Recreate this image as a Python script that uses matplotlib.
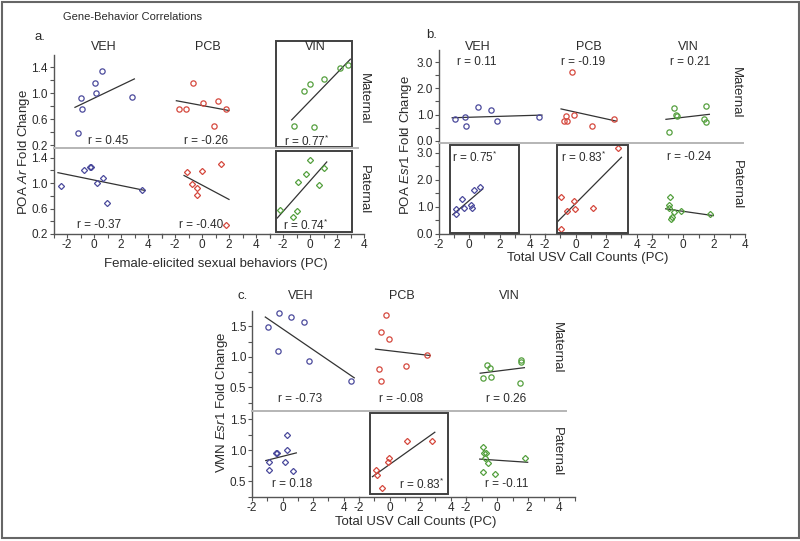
"""Gene-behavior correlation panels (a, b, c) redrawn with matplotlib."""

import matplotlib
matplotlib.use("Agg")
import matplotlib.pyplot as plt
import numpy as np
from matplotlib.lines import Line2D
from matplotlib.patches import Rectangle

plt.rcParams["font.family"] = ["Liberation Sans", "DejaVu Sans"]
plt.rcParams["mathtext.fontset"] = "custom"
plt.rcParams["mathtext.rm"] = "Liberation Sans"
plt.rcParams["mathtext.it"] = "Liberation Sans:italic"
plt.rcParams["axes.unicode_minus"] = False

W, H = 800, 541

GROUPS = ["VEH", "PCB", "VIN"]
ROWS = ["Maternal", "Paternal"]
COLORS = ["#4b4a9c", "#d5493e", "#55a03f"]

# --- panel a: POA Ar vs female-elicited sexual behaviors (PC)
a_mat_x = [[-1.21, -0.96, -0.91, 0.07, 0.15, 0.59, 2.79],
           [-1.70, -1.15, -0.65, 0.05, 1.16, 1.80, 0.91],
           [-1.16, -0.44, 0.02, 0.27, 1.06, 2.22, 2.79]]
a_mat_y = [[0.38, 0.93, 0.75, 1.15, 1.00, 1.34, 0.94],
           [0.76, 0.75, 1.16, 0.85, 0.88, 0.75, 0.49],
           [0.49, 1.03, 1.14, 0.47, 1.22, 1.39, 1.43]]
a_pat_x = [[-2.47, -0.76, -0.30, -0.20, 0.22, 0.64, 0.99, 3.53],
           [-1.13, -0.72, -0.35, -0.39, -0.02, 1.43, 1.80],
           [-2.22, -1.24, -0.94, -0.87, -0.30, 0.00, 0.64, 1.04]]
a_pat_y = [[0.95, 1.21, 1.26, 1.25, 1.00, 1.08, 0.68, 0.89],
           [1.18, 0.98, 0.92, 0.81, 1.19, 1.30, 0.34],
           [0.57, 0.47, 0.56, 1.02, 1.14, 1.37, 0.97, 1.24]]
a_r_mat = ["r = 0.45", "r = -0.26", "r = 0.77$^{*}$"]
a_r_pat = ["r = -0.37", "r = -0.40", "r = 0.74$^{*}$"]

# --- panel b: POA Esr1 vs total USV call counts (PC)
b_mat_x = [[-0.93, -0.27, -0.22, 0.58, 1.42, 1.80, 4.60],
           [-0.75, -0.60, -0.53, -0.25, -0.09, 1.09, 2.49],
           [-0.60, -0.45, -0.39, -0.90, 1.50, 1.37, 1.50]]
b_mat_y = [[0.84, 0.90, 0.56, 1.30, 1.17, 0.75, 0.90],
           [0.77, 0.95, 0.77, 2.61, 1.00, 0.56, 0.83],
           [1.24, 0.98, 0.95, 0.35, 1.33, 0.83, 0.73]]
b_pat_x = [[-0.89, -0.89, -0.47, -0.38, 0.11, 0.15, 0.33, 0.69],
           [-0.93, -0.98, -0.53, -0.09, -0.05, 1.13, 2.80],
           [-0.86, -0.92, -0.92, -0.60, -0.75, -0.69, -0.11, 1.76]]
b_pat_y = [[0.91, 0.74, 1.29, 0.95, 1.06, 0.97, 1.63, 1.73],
           [1.36, 0.17, 0.85, 1.23, 0.93, 0.97, 3.17],
           [1.36, 1.07, 0.97, 0.80, 0.56, 0.62, 0.86, 0.74]]
b_r_mat = ["r = 0.11", "r = -0.19", "r = 0.21"]
b_r_pat = ["r = 0.75$^{*}$", "r = 0.83$^{*}$", "r = -0.24"]

# --- panel c: VMN Esr1 vs total USV call counts (PC)
c_mat_x = [[-0.93, -0.24, -0.28, 0.52, 1.39, 1.72, 4.49],
           [-0.22, -0.59, -0.05, -0.72, -0.59, 1.09, 2.46],
           [-0.63, -0.46, -0.89, -0.39, 1.50, 1.55, 1.44]]
c_mat_y = [[1.49, 1.72, 1.10, 1.66, 1.57, 0.93, 0.60],
           [1.69, 1.40, 1.29, 0.80, 0.60, 0.85, 1.03],
           [0.87, 0.82, 0.65, 0.67, 0.95, 0.91, 0.57]]
c_pat_x = [[-0.90, -0.90, -0.46, -0.37, 0.26, 0.26, 0.13, 0.70],
           [-0.92, -0.83, -0.05, -0.08, -0.48, 1.13, 2.76],
           [-0.92, -0.83, -0.70, -0.78, -0.59, -0.92, -0.13, 1.76]]
c_pat_y = [[0.81, 0.69, 0.96, 0.96, 1.25, 1.00, 0.81, 0.66],
           [0.68, 0.61, 0.88, 0.81, 0.39, 1.15, 1.15],
           [1.05, 0.96, 0.95, 0.88, 0.79, 0.65, 0.62, 0.87]]
c_r_mat = ["r = -0.73", "r = -0.08", "r = 0.26"]
c_r_pat = ["r = 0.18", "r = 0.83$^{*}$", "r = -0.11"]

AXIS_C = "#555555"
TEXT_C = "#2b2b2b"


def px_rect(x0, y0, x1, y1):
    """Pixel box (top-left origin) -> figure fraction [l, b, w, h]."""
    return [x0 / W, 1 - y1 / H, (x1 - x0) / W, (y1 - y0) / H]


def px_text(fig, x, y, s, **kw):
    kw.setdefault("ha", "center")
    kw.setdefault("va", "center")
    kw.setdefault("color", TEXT_C)
    fig.text(x / W, 1 - y / H, s, **kw)


def draw_panel(fig, cols, rows, xlims, ylims, yticks, yminor, yfmt, xs, ys):
    markers = ["o", "D"]
    sizes = [3.8, 3.1]
    for r in range(2):
        for c in range(3):
            ax = fig.add_axes(px_rect(cols[c], rows[r], cols[c + 1], rows[r + 1]))
            ax.patch.set_alpha(0)
            for sp in ax.spines.values():
                sp.set_visible(False)
                sp.set_color(AXIS_C)
                sp.set_linewidth(1.0)
            ax.set_xlim(*xlims[c])
            ax.set_ylim(*ylims[r])

            x = np.asarray(xs[r][c])
            y = np.asarray(ys[r][c])
            ax.plot(x, y, ls="none", marker=markers[r], ms=sizes[r], mfc="none",
                    mec=COLORS[c], mew=0.9, clip_on=False, zorder=3)
            slope, icpt = np.polyfit(x, y, 1)
            xx = np.array([x.min() - 0.2, x.max() + 0.2])
            ax.plot(xx, slope * xx + icpt, color="#333333", lw=0.9, zorder=2)

            ax.tick_params(which="both", direction="out", length=3, width=0.8,
                           color=AXIS_C, labelsize=8.5, labelcolor=TEXT_C, pad=1.2)
            ax.tick_params(axis="x", which="both", pad=0.8)
            if c == 0:
                ax.spines["left"].set_visible(True)
                ax.set_yticks(yticks)
                ax.set_yticklabels([yfmt % v for v in yticks])
                ax.set_yticks(yminor[r], minor=True)
            else:
                ax.set_yticks([])
            if r == 1:
                ax.spines["bottom"].set_visible(True)
                lo, hi = xlims[c]
                major = [v for v in range(-2, 5, 2) if lo <= v <= hi]
                minor = [v for v in range(-3, 6, 2) if lo <= v <= hi]
                ax.set_xticks(major)
                ax.set_xticklabels([str(v) for v in major])
                ax.set_xticks(minor, minor=True)
            else:
                ax.set_xticks([])


def separator(fig, x0, x1, y):
    fig.add_artist(Line2D([x0 / W, x1 / W], [1 - y / H, 1 - y / H],
                          color="#b5b5b5", lw=1.4))


def box(fig, x0, y0, x1, y1):
    l, b, w, h = px_rect(x0, y0, x1, y1)
    fig.add_artist(Rectangle((l, b), w, h, fill=False, ec="#404040", lw=1.4))


fig = plt.figure(figsize=(W / 100, H / 100), dpi=100)

# outer frame
l, b, w, h = px_rect(1.5, 1.5, 798.5, 537.5)
fig.add_artist(Rectangle((l, b), w, h, fill=False, ec="#666666", lw=1.5))

px_text(fig, 63, 17, "Gene-Behavior Correlations", ha="left", fontsize=8)

# ---------------- panel a
draw_panel(fig, [53.5, 161.5, 269.5, 364], [55, 148, 234],
           [(-3, 5), (-3, 5), (-3, 4)], [(0.154, 1.585), (0.2, 1.553)],
           [0.2, 0.6, 1.0, 1.4], [[0.4, 0.8, 1.2], [0.4, 0.8, 1.2]], "%.1f",
           [a_mat_x, a_pat_x], [a_mat_y, a_pat_y])
separator(fig, 53.5, 358, 148)
box(fig, 276, 41, 352, 147)
box(fig, 276, 151, 352, 232)
px_text(fig, 40, 37, "a.", fontsize=9.5)
for gx, g in zip([104, 208, 315], GROUPS):
    px_text(fig, gx, 47, g, fontsize=9)
for rx, s in zip([108, 206, 307], a_r_mat):
    px_text(fig, rx, 141, s, fontsize=8.5)
for rx, s in zip([99, 201, 306], a_r_pat):
    px_text(fig, rx, 225, s, fontsize=8.5)
px_text(fig, 364, 99, ROWS[0], rotation=-90, fontsize=9.5)
px_text(fig, 364, 190, ROWS[1], rotation=-90, fontsize=9.5)
px_text(fig, 24, 152, r"POA $\mathit{Ar}$ Fold Change", rotation=90, fontsize=9.5)
px_text(fig, 216, 264, "Female-elicited sexual behaviors (PC)", fontsize=9.5)

# ---------------- panel b
draw_panel(fig, [439, 545, 652, 745], [50, 143, 234],
           [(-2, 5), (-2, 5), (-2, 4)], [(-0.08, 3.46), (0.0, 3.37)],
           [0.0, 1.0, 2.0, 3.0], [[0.5, 1.5, 2.5], [0.5, 1.5, 2.5]], "%.1f",
           [b_mat_x, b_pat_x], [b_mat_y, b_pat_y])
separator(fig, 439, 743, 143)
box(fig, 450, 145, 519, 233)
box(fig, 557, 145, 628, 233)
px_text(fig, 432, 35, "b.", fontsize=9.5)
for gx, g in zip([478, 589, 688], GROUPS):
    px_text(fig, gx, 47, g, fontsize=9)
for rx, s in zip([477, 583, 690], b_r_mat):
    px_text(fig, rx, 62, s, fontsize=8.5)
for rx, s in zip([475, 584, 689], b_r_pat):
    px_text(fig, rx, 157, s, fontsize=8.5)
px_text(fig, 736, 93, ROWS[0], rotation=-90, fontsize=9.5)
px_text(fig, 737, 185, ROWS[1], rotation=-90, fontsize=9.5)
px_text(fig, 406, 145, r"POA $\mathit{Esr1}$ Fold Change", rotation=90, fontsize=9.5)
px_text(fig, 588, 258, "Total USV Call Counts (PC)", fontsize=9.5)

# ---------------- panel c
draw_panel(fig, [252, 359, 466, 575], [311, 411, 497],
           [(-2, 5), (-2, 5), (-2, 5)], [(0.115, 1.75), (0.25, 1.63)],
           [0.5, 1.0, 1.5], [[0.25, 0.75, 1.25], [0.25, 0.75, 1.25]], "%.1f",
           [c_mat_x, c_pat_x], [c_mat_y, c_pat_y])
separator(fig, 252, 566, 411)
box(fig, 370, 413, 448, 494)
px_text(fig, 243, 296, "c.", fontsize=9.5)
for gx, g in zip([301, 402, 509], GROUPS):
    px_text(fig, gx, 296, g, fontsize=9)
for rx, s in zip([300, 401, 506], c_r_mat):
    px_text(fig, rx, 399, s, fontsize=8.5)
for rx, s in zip([292, 422, 507], c_r_pat):
    px_text(fig, rx, 484, s, fontsize=8.5)
px_text(fig, 557, 348, ROWS[0], rotation=-90, fontsize=9.5)
px_text(fig, 557, 452, ROWS[1], rotation=-90, fontsize=9.5)
px_text(fig, 222, 402, r"VMN $\mathit{Esr1}$ Fold Change", rotation=90, fontsize=9.5)
px_text(fig, 416, 522, "Total USV Call Counts (PC)", fontsize=9.5)

fig.savefig("out.png", dpi=100)
plt.close(fig)
